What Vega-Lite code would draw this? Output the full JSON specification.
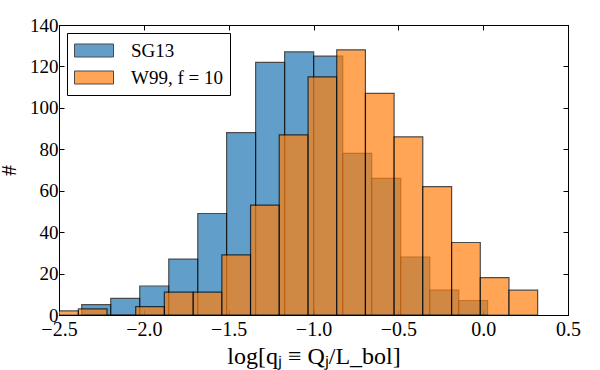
{
  "$schema": "https://vega.github.io/schema/vega-lite/v6.json",
  "width": 509,
  "height": 290,
  "autosize": "none",
  "padding": {"left": 59, "top": 25, "right": 32, "bottom": 55},
  "data": {
    "values": [
      {"series": "SG13", "x0": -2.366, "x1": -2.195, "count": 5},
      {"series": "SG13", "x0": -2.195, "x1": -2.024, "count": 8},
      {"series": "SG13", "x0": -2.024, "x1": -1.853, "count": 14},
      {"series": "SG13", "x0": -1.853, "x1": -1.682, "count": 27},
      {"series": "SG13", "x0": -1.682, "x1": -1.512, "count": 49},
      {"series": "SG13", "x0": -1.512, "x1": -1.341, "count": 88},
      {"series": "SG13", "x0": -1.341, "x1": -1.170, "count": 122},
      {"series": "SG13", "x0": -1.170, "x1": -0.999, "count": 127},
      {"series": "SG13", "x0": -0.999, "x1": -0.828, "count": 125},
      {"series": "SG13", "x0": -0.828, "x1": -0.657, "count": 78},
      {"series": "SG13", "x0": -0.657, "x1": -0.486, "count": 66},
      {"series": "SG13", "x0": -0.486, "x1": -0.315, "count": 28},
      {"series": "SG13", "x0": -0.315, "x1": -0.144, "count": 12},
      {"series": "SG13", "x0": -0.144, "x1": 0.026, "count": 7},
      {"series": "W99, f = 10", "x0": -2.555, "x1": -2.386, "count": 2},
      {"series": "W99, f = 10", "x0": -2.386, "x1": -2.217, "count": 3},
      {"series": "W99, f = 10", "x0": -2.217, "x1": -2.048, "count": 0},
      {"series": "W99, f = 10", "x0": -2.048, "x1": -1.879, "count": 4},
      {"series": "W99, f = 10", "x0": -1.879, "x1": -1.709, "count": 11},
      {"series": "W99, f = 10", "x0": -1.709, "x1": -1.540, "count": 11},
      {"series": "W99, f = 10", "x0": -1.540, "x1": -1.371, "count": 29},
      {"series": "W99, f = 10", "x0": -1.371, "x1": -1.202, "count": 53},
      {"series": "W99, f = 10", "x0": -1.202, "x1": -1.032, "count": 87},
      {"series": "W99, f = 10", "x0": -1.032, "x1": -0.863, "count": 115},
      {"series": "W99, f = 10", "x0": -0.863, "x1": -0.694, "count": 128},
      {"series": "W99, f = 10", "x0": -0.694, "x1": -0.525, "count": 107},
      {"series": "W99, f = 10", "x0": -0.525, "x1": -0.356, "count": 86},
      {"series": "W99, f = 10", "x0": -0.356, "x1": -0.186, "count": 62},
      {"series": "W99, f = 10", "x0": -0.186, "x1": -0.017, "count": 35},
      {"series": "W99, f = 10", "x0": -0.017, "x1": 0.152, "count": 18},
      {"series": "W99, f = 10", "x0": 0.152, "x1": 0.321, "count": 12}
    ]
  },
  "layer": [
    {
      "mark": {"type": "rect", "clip": true, "stroke": "black", "strokeWidth": 1.2, "opacity": 0.7},
      "encoding": {
        "x": {
          "field": "x0", "type": "quantitative",
          "scale": {"domain": [-2.5, 0.5], "nice": false, "zero": false},
          "axis": {"values": [-2.5, -2.0, -1.5, -1.0, -0.5, 0.0, 0.5], "format": ".1f", "labelPadding": 9, "titlePadding": 5, "labelFontSize": 20, "titleFontSize": 24, "labelFont": "Liberation Serif", "titleFont": "Liberation Serif"},
          "title": "log[qⱼ ≡ Qⱼ/L_bol]"
        },
        "x2": {"field": "x1"},
        "y": {
          "field": "count", "type": "quantitative",
          "scale": {"domain": [0, 140], "nice": false},
          "axis": {"values": [0, 20, 40, 60, 80, 100, 120, 140], "labelPadding": 6, "titlePadding": 9, "labelFontSize": 19, "titleFontSize": 22, "labelFont": "Liberation Serif", "titleFont": "Liberation Serif"},
          "title": "#"
        },
        "y2": {"datum": 0},
        "color": {
          "field": "series", "type": "nominal",
          "scale": {"domain": ["SG13", "W99, f = 10"], "range": ["#1f77b4", "#ff7f0e"]},
          "legend": {
            "title": null, "orient": "top-left", "offset": 8,
            "strokeColor": "black", "fillColor": "white", "padding": 7, "cornerRadius": 0,
            "symbolType": "M-1,-0.65H2.9V0.65H-1Z", "symbolSize": 400,
            "symbolStrokeColor": "black", "symbolStrokeWidth": 1, "symbolOpacity": 0.7,
            "labelFont": "Liberation Serif", "labelFontSize": 19, "labelOffset": 36,
            "rowPadding": 6, "labelColor": "black"
          }
        }
      }
    },
    {
      "mark": {"type": "point", "opacity": 0, "clip": true},
      "encoding": {
        "x": {
          "field": "x0", "type": "quantitative",
          "scale": {"domain": [-2.5, 0.5], "nice": false, "zero": false},
          "axis": {"orient": "top", "values": [-2.5, -2.0, -1.5, -1.0, -0.5, 0.0, 0.5], "labels": false, "title": null}
        },
        "y": {
          "field": "count", "type": "quantitative",
          "scale": {"domain": [0, 140], "nice": false},
          "axis": {"orient": "right", "values": [0, 20, 40, 60, 80, 100, 120, 140], "labels": false, "title": null}
        }
      }
    }
  ],
  "resolve": {"axis": {"x": "independent", "y": "independent"}},
  "config": {
    "font": "Liberation Serif",
    "view": {"stroke": "black", "strokeWidth": 1},
    "axis": {
      "grid": false, "domainColor": "black", "domainWidth": 1,
      "tickColor": "black", "tickSize": -5, "tickWidth": 1,
      "labelFont": "Liberation Serif", "labelFontSize": 18, "labelColor": "black",
      "labelFlush": false, "labelOverlap": false,
      "titleFont": "Liberation Serif", "titleFontWeight": "normal", "titleColor": "black"
    }
  }
}
